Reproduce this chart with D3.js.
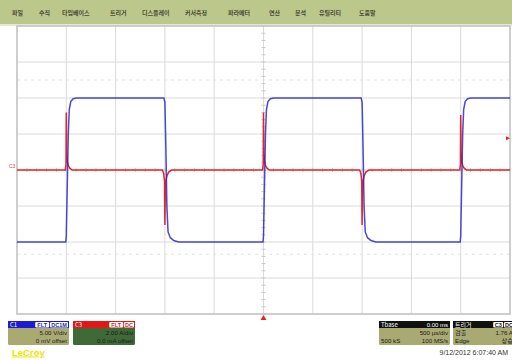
<!DOCTYPE html>
<html>
<head>
<meta charset="utf-8">
<script src="https://cdn.jsdelivr.net/npm/d3@7"></script>
<style>
  html, body { margin: 0; padding: 0; background: #fff; }
  svg { display: block; font-family: "Liberation Sans", Arial, sans-serif; }
</style>
</head>
<body>
<svg id="scope" width="512" height="360"></svg>
<script>
// ---- Menu ----
const menuItems = ["파일", "수직", "타임베이스", "트리거", "디스플레이", "커서측정", "파라메터", "연산", "분석", "유틸리티", "도움말"];
const menuX = [12, 39, 62, 110, 142, 185, 228, 269, 295, 319, 359];

// ---- Channel 1 (voltage, V) : time in µs ----
const c1Trace = [
  [-2500, -10], [-2005, -10], [-2000, -9.2], [-1990, -2], [-1980, 5], [-1970, 8.4], [-1955, 9.5], [-1930, 9.9], [-1900, 10],
  [-1010, 10], [-1000, 9.4], [-990, 3], [-980, -5], [-968, -8.6], [-945, -9.4], [-910, -9.8], [-860, -10],
  [-5, -10], [0, -9.2], [10, -2], [20, 5], [30, 8.4], [45, 9.5], [70, 9.9], [100, 10],
  [990, 10], [1000, 9.4], [1010, 3], [1020, -5], [1032, -8.6], [1055, -9.4], [1090, -9.8], [1140, -10],
  [1995, -10], [2000, -9.2], [2010, -2], [2020, 5], [2030, 8.4], [2045, 9.5], [2070, 9.9], [2100, 10],
  [2500, 10]
];

// ---- Channel 3 (current, A) ----
const c3Trace = [
  [-2500, 0], [-2010, 0], [-2003, 0.3], [-2000, 3.2], [-1996, 1.0], [-1990, 0.5], [-1980, 0.25], [-1965, 0.1], [-1940, 0],
  [-1025, 0], [-1012, -0.2], [-1004, -0.6], [-1000, -3.05], [-996, -1.2], [-990, -0.6], [-978, -0.3], [-960, -0.1], [-930, 0],
  [-10, 0], [-3, 0.3], [0, 3.2], [4, 1.0], [10, 0.5], [20, 0.25], [35, 0.1], [60, 0],
  [975, 0], [988, -0.2], [996, -0.6], [1000, -3.05], [1004, -1.2], [1010, -0.6], [1022, -0.3], [1040, -0.1], [1070, 0],
  [1990, 0], [1997, 0.3], [2000, 3.05], [2004, 1.0], [2010, 0.5], [2020, 0.25], [2035, 0.1], [2060, 0],
  [2500, 0]
];

const triggerLevel = 1.76;        // A
const timeDomain = [-2500, 2500]; // µs, 500 µs/div
const c1Domain = [-20, 20];       // 5 V/div
const c3Domain = [-8, 8];         // 2 A/div
const dottedLevels = [12.5, -11.7]; // V, faint dotted guides

const svg = d3.select("#scope");
const W = 512;
const plot = { left: 17, right: 510, top: 26, bottom: 314 };
const cjk = "'Noto Sans CJK KR', 'Liberation Sans', sans-serif";

// menu bar
svg.append("rect").attr("x", 0).attr("y", 0).attr("width", W).attr("height", 24).attr("fill", "#bcc88b");
svg.append("rect").attr("x", 0).attr("y", 24).attr("width", W).attr("height", 2).attr("fill", "#e4e8d6");
svg.append("g").selectAll("text").data(menuItems).join("text")
  .attr("x", (d, i) => menuX[i]).attr("y", 15)
  .attr("font-family", cjk).attr("font-weight", "bold")
  .attr("font-size", 6).attr("fill", "#4a4a38").text(d => d);

const x = d3.scaleLinear().domain(timeDomain).range([plot.left, plot.right]);
const y1 = d3.scaleLinear().domain(c1Domain).range([plot.bottom, plot.top]);
const y3 = d3.scaleLinear().domain(c3Domain).range([plot.bottom, plot.top]);

// grid
const grid = svg.append("g");
grid.selectAll(".vg").data(d3.range(-2500, 2501, 500)).join("line")
  .attr("x1", d => x(d)).attr("x2", d => x(d)).attr("y1", plot.top).attr("y2", plot.bottom)
  .attr("stroke", "#dadada").attr("stroke-width", 1);
grid.selectAll(".hg").data(d3.range(-20, 20.1, 5)).join("line")
  .attr("x1", plot.left).attr("x2", plot.right).attr("y1", d => y1(d)).attr("y2", d => y1(d))
  .attr("stroke", "#dadada").attr("stroke-width", 1);
grid.selectAll(".dl").data(dottedLevels).join("line")
  .attr("x1", plot.left).attr("x2", plot.right).attr("y1", d => y1(d)).attr("y2", d => y1(d))
  .attr("stroke", "#e2e2e2").attr("stroke-width", 1).attr("stroke-dasharray", "3,4");
// minor ticks on centre axes
grid.selectAll(".tx").data(d3.range(-2500, 2501, 100)).join("line")
  .attr("x1", d => x(d)).attr("x2", d => x(d)).attr("y1", y1(0) - 2).attr("y2", y1(0) + 2)
  .attr("stroke", "#c8c8c8");
grid.selectAll(".ty").data(d3.range(-20, 20.1, 1)).join("line")
  .attr("x1", x(0) - 2).attr("x2", x(0) + 2).attr("y1", d => y1(d)).attr("y2", d => y1(d))
  .attr("stroke", "#c8c8c8");
// frame
svg.append("rect").attr("x", plot.left).attr("y", plot.top)
  .attr("width", plot.right - plot.left).attr("height", plot.bottom - plot.top)
  .attr("fill", "none").attr("stroke", "#c4c4c4").attr("stroke-width", 1.5);

// traces
const line1 = d3.line().x(d => x(d[0])).y(d => y1(d[1]));
const line3 = d3.line().x(d => x(d[0])).y(d => y3(d[1]));
svg.append("path").datum(c3Trace).attr("d", line3)
  .attr("fill", "none").attr("stroke", "#e82222").attr("stroke-width", 1.5);
svg.append("path").datum(c1Trace).attr("d", line1)
  .attr("fill", "none").attr("stroke", "#2828d4").attr("stroke-width", 1.5).attr("stroke-opacity", 0.85);

// channel label and markers
svg.append("text").attr("x", 9).attr("y", y3(0) - 2).attr("font-size", 5).attr("fill", "#e04040").text("C3");
svg.append("path")
  .attr("d", `M${plot.right},${y3(triggerLevel)} l-4,-2 l0,4 z`).attr("fill", "#e82222");
svg.append("path")
  .attr("d", `M${x(0)},${plot.bottom + 1} l-3,5 l6,0 z`).attr("fill", "#e82222");

// ---- info boxes ----
function box(x0, w, headColor, bodyColor, title, badges, rows) {
  const g = svg.append("g");
  g.append("rect").attr("x", x0).attr("y", 321).attr("width", w).attr("height", 24).attr("rx", 1.5).attr("fill", bodyColor);
  g.append("rect").attr("x", x0).attr("y", 321).attr("width", w).attr("height", 7).attr("fill", headColor);
  g.append("text").attr("x", x0 + 2).attr("y", 327).attr("font-size", 6).attr("fill", "#fff")
    .attr("font-family", cjk).text(title);
  let bx = x0 + w - 1;
  badges.slice().reverse().forEach(b => {
    const bw = b.length * 4 + 2;
    bx -= bw;
    g.append("rect").attr("x", bx).attr("y", 322).attr("width", bw).attr("height", 5.5).attr("rx", 1).attr("fill", "#fff");
    g.append("text").attr("x", bx + bw / 2).attr("y", 326.8).attr("text-anchor", "middle")
      .attr("font-size", 5.5).attr("font-weight", "bold").attr("fill", headColor).text(b);
    bx -= 0.8;
  });
  rows.forEach((r, i) => {
    const yy = 335.3 + i * 7.4;
    if (r[0]) g.append("text").attr("x", x0 + 2).attr("y", yy).attr("font-size", 6.2).attr("fill", "#1a1a1a")
      .attr("font-family", "'Liberation Sans', 'Noto Sans CJK KR', sans-serif").text(r[0]);
    if (r[1]) g.append("text").attr("x", x0 + w - 2).attr("y", yy).attr("text-anchor", "end").attr("font-size", 6.2).attr("fill", "#1a1a1a")
      .attr("font-family", "'Liberation Sans', 'Noto Sans CJK KR', sans-serif").text(r[1]);
  });
  return g;
}
box(8, 61, "#1c1cd0", "#a9aa72", "C1", ["FLT", "DC1M"], [["", "5.00 V/div"], ["", "0 mV offset"]]);
box(73, 62, "#e01818", "#3f6a38", "C3", ["FLT", "DC"], [["", "2.00 A/div"], ["", "0.0 mA offset"]]);
box(379, 71, "#111", "#a9aa72", "Tbase", [], [["", "500 µs/div"], ["500 kS", "100 MS/s"]])
  .append("text").attr("x", 448).attr("y", 327).attr("text-anchor", "end").attr("font-size", 6).attr("fill", "#fff").text("0.00 ms");
box(453, 62, "#111", "#a9aa72", "트리거", ["C3", "DC"], [["검출", "1.76 A"], ["Edge", "상승"]]);

svg.append("text").attr("x", 12).attr("y", 355.5).attr("font-size", 9.5).attr("font-weight", "bold").attr("fill", "#ece400")
  .attr("text-decoration", "underline").text("LeCroy");
svg.append("text").attr("x", 508).attr("y", 355).attr("text-anchor", "end").attr("font-size", 7).attr("fill", "#333")
  .text("9/12/2012 6:07:40 AM");
</script>
</body>
</html>
